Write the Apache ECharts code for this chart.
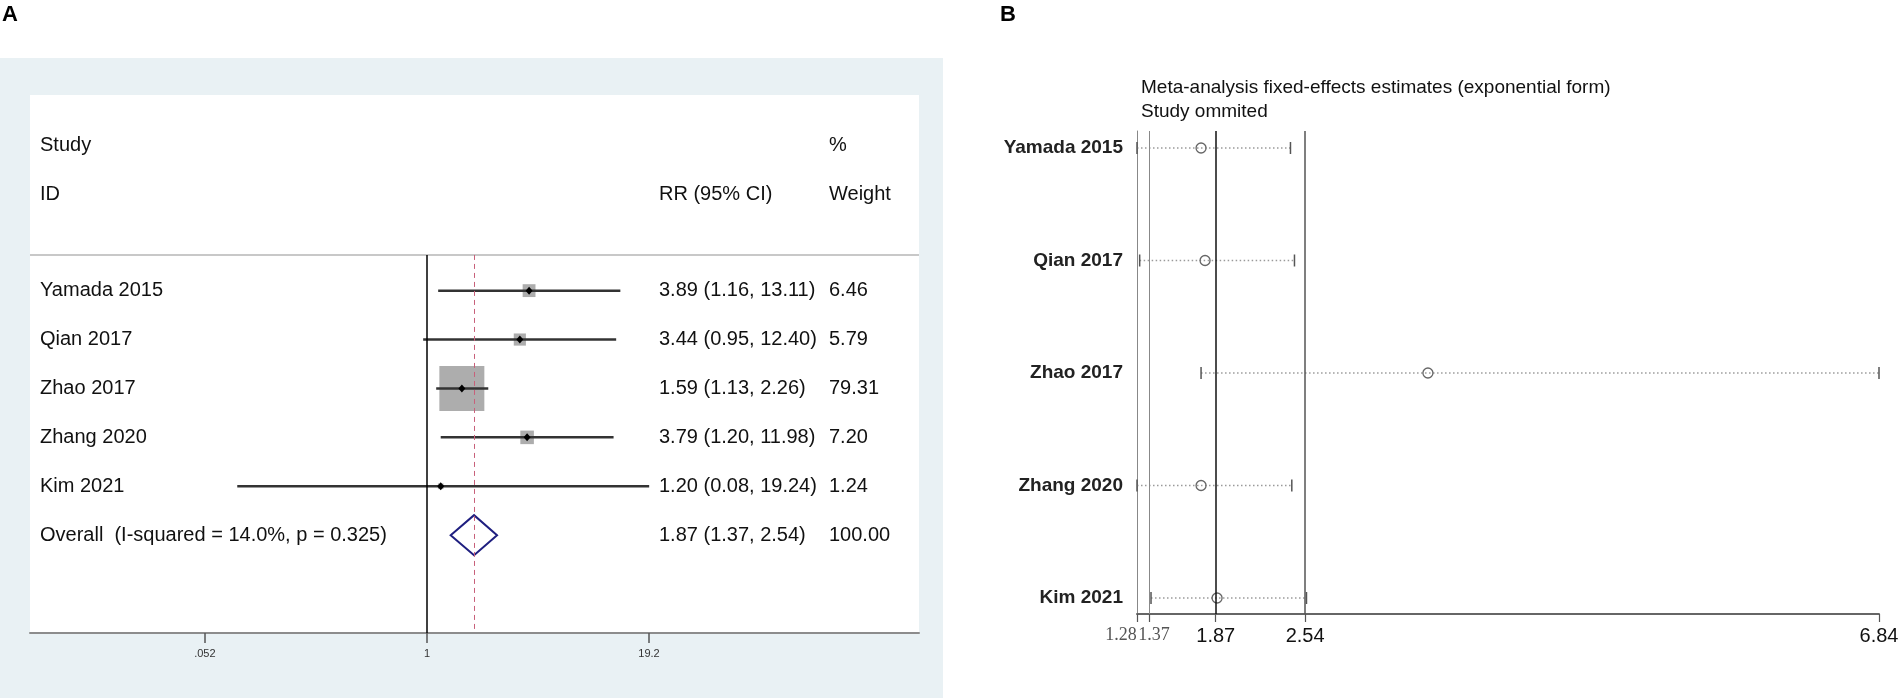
<!DOCTYPE html>
<html>
<head>
<meta charset="utf-8">
<script src="https://cdn.jsdelivr.net/npm/echarts@6/dist/echarts.min.js"></script>
<style>
html,body{margin:0;padding:0;background:#fff;}
#main{width:1902px;height:698px;}
</style>
</head>
<body>
<div id="main"></div>
<script>
// panel A : forest plot (RR, log scale)
var studiesA = ['Yamada 2015', 'Qian 2017', 'Zhao 2017', 'Zhang 2020', 'Kim 2021'];
var rrA = [3.89, 3.44, 1.59, 3.79, 1.20];
var loA = [1.16, 0.95, 1.13, 1.20, 0.08];
var hiA = [13.11, 12.40, 2.26, 11.98, 19.24];
var weightA = [6.46, 5.79, 79.31, 7.20, 1.24];
var overallLabel = 'Overall  (I-squared = 14.0%, p = 0.325)';
var overallA = [1.87, 1.37, 2.54];
var overallWeight = 100.00;
var tickValsA = [0.052, 1, 19.2];
var tickLabelsA = ['.052', '1', '19.2'];

// panel B : study omitted
var studiesB = ['Yamada 2015', 'Qian 2017', 'Zhao 2017', 'Zhang 2020', 'Kim 2021'];
var estB = [1.76, 1.79, 3.46, 1.76, 1.88];
var loB = [1.28, 1.30, 1.76, 1.28, 1.385];
var hiB = [2.43, 2.46, 6.84, 2.44, 2.55];
var tickValsB = [1.28, 1.37, 1.87, 2.54, 6.84];
var tickLabelsB = ['1.28', '1.37', '1.87', '2.54', '6.84'];

var FONT = '"Liberation Sans", Arial, sans-serif';
var lg = function (v) { return Math.log(v) / Math.LN10; };

// rows of panel A, last one is the pooled estimate
var rowsA = [];
for (var i = 0; i < studiesA.length; i++) {
    rowsA.push({name: studiesA[i], est: rrA[i], lo: loA[i], hi: hiA[i], w: weightA[i], overall: 0});
}
rowsA.push({name: overallLabel, est: overallA[0], lo: overallA[1], hi: overallA[2], w: overallWeight, overall: 1});

var dataA = rowsA.map(function (r, i) {
    return [lg(r.est), lg(r.lo), lg(r.hi), i + 1, r.w, r.overall];
});
var dataB = studiesB.map(function (s, i) {
    return [estB[i], loB[i], hiB[i], i];
});

function renderForest(params, api) {
    var r = rowsA[params.dataIndex];
    var yv = api.value(3);
    var pE = api.coord([api.value(0), yv]);
    var pL = api.coord([api.value(1), yv]);
    var pH = api.coord([api.value(2), yv]);
    var y = pE[1];
    var txt = function (x, s) {
        return {type: 'text', style: {x: x, y: y, text: s, fill: '#111', font: '20px ' + FONT, align: 'left', verticalAlign: 'middle'}};
    };
    var kids = [];
    if (r.overall) {
        kids.push({
            type: 'polygon',
            shape: {points: [[pL[0], y], [pE[0], y - 20], [pH[0], y], [pE[0], y + 20]]},
            style: {fill: 'none', stroke: '#1f1f80', lineWidth: 2}
        });
    } else {
        var sz = 45 * Math.sqrt(r.w / 79.31);
        kids.push({type: 'rect', shape: {x: pE[0] - sz / 2, y: y - sz / 2, width: sz, height: sz}, style: {fill: '#adadad'}});
        kids.push({type: 'line', shape: {x1: pL[0], y1: y, x2: pH[0], y2: y}, style: {stroke: '#333', lineWidth: 2.5}});
        kids.push({
            type: 'polygon',
            shape: {points: [[pE[0] - 3.5, y], [pE[0], y - 4], [pE[0] + 3.5, y], [pE[0], y + 4]]},
            style: {fill: '#000'}
        });
    }
    kids.push(txt(40, r.name));
    kids.push(txt(659, r.est.toFixed(2) + ' (' + r.lo.toFixed(2) + ', ' + r.hi.toFixed(2) + ')'));
    kids.push(txt(829, r.w.toFixed(2)));
    return {type: 'group', children: kids};
}

function renderInfl(params, api) {
    var yv = api.value(3);
    var pE = api.coord([api.value(0), yv]);
    var pL = api.coord([api.value(1), yv]);
    var pH = api.coord([api.value(2), yv]);
    var y = pE[1];
    return {
        type: 'group',
        children: [
            {type: 'line', shape: {x1: pL[0], y1: y, x2: pH[0], y2: y}, style: {stroke: '#9a9a9a', lineWidth: 1.5, lineDash: [1.5, 2.5]}},
            {type: 'line', shape: {x1: pL[0], y1: y - 6, x2: pL[0], y2: y + 6}, style: {stroke: '#555', lineWidth: 1.5}},
            {type: 'line', shape: {x1: pH[0], y1: y - 6, x2: pH[0], y2: y + 6}, style: {stroke: '#555', lineWidth: 1.5}},
            {type: 'circle', shape: {cx: pE[0], cy: y, r: 5}, style: {fill: 'none', stroke: '#666', lineWidth: 1.3}}
        ]
    };
}

var myChart = echarts.init(document.getElementById('main'));

var option = {
    animation: false,
    backgroundColor: '#fff',
    graphic: [
        {type: 'rect', z: -10, shape: {x: 0, y: 58, width: 943, height: 640}, style: {fill: '#e9f1f4'}},
        {type: 'rect', z: -9, shape: {x: 30, y: 95, width: 889, height: 538}, style: {fill: '#fff'}},
        {type: 'text', left: 2, top: 4, style: {text: 'A', font: 'bold 22px ' + FONT, fill: '#000'}},
        {type: 'text', left: 1000, top: 4, style: {text: 'B', font: 'bold 22px ' + FONT, fill: '#000'}},
        {type: 'text', x: 40, y: 145, style: {text: 'Study', font: '20px ' + FONT, fill: '#111', verticalAlign: 'middle'}},
        {type: 'text', x: 40, y: 194, style: {text: 'ID', font: '20px ' + FONT, fill: '#111', verticalAlign: 'middle'}},
        {type: 'text', x: 659, y: 194, style: {text: 'RR (95% CI)', font: '20px ' + FONT, fill: '#111', verticalAlign: 'middle'}},
        {type: 'text', x: 829, y: 145, style: {text: '%', font: '20px ' + FONT, fill: '#111', verticalAlign: 'middle'}},
        {type: 'text', x: 829, y: 194, style: {text: 'Weight', font: '20px ' + FONT, fill: '#111', verticalAlign: 'middle'}},
        {type: 'text', x: 1141, y: 88, style: {text: 'Meta-analysis fixed-effects estimates (exponential form)', font: '19px ' + FONT, fill: '#111', verticalAlign: 'middle'}},
        {type: 'text', x: 1141, y: 112, style: {text: 'Study ommited', font: '19px ' + FONT, fill: '#111', verticalAlign: 'middle'}}
    ],
    grid: [
        {left: 30, top: 95, width: 889, height: 538, containLabel: false},
        {left: 1137, top: 131, width: 742, height: 483, containLabel: false}
    ],
    xAxis: [
        {
            type: 'value', gridIndex: 0, position: 'bottom',
            min: -2.295, max: 2.844,
            splitLine: {show: false},
            axisLine: {onZero: false, lineStyle: {color: '#8c8c8c', width: 2}},
            axisTick: {customValues: tickValsA.map(lg), length: 10, lineStyle: {color: '#555', width: 1.5}},
            axisLabel: {
                customValues: tickValsA.map(lg),
                margin: 15, fontSize: 11, fontFamily: FONT, color: '#333',
                formatter: function (v) {
                    var best = 0;
                    for (var k = 1; k < tickValsA.length; k++) {
                        if (Math.abs(lg(tickValsA[k]) - v) < Math.abs(lg(tickValsA[best]) - v)) best = k;
                    }
                    return tickLabelsA[best];
                }
            }
        },
        {
            type: 'value', gridIndex: 1, position: 'bottom',
            min: 1.28, max: 6.84,
            splitLine: {show: false},
            axisLine: {onZero: false, lineStyle: {color: '#666', width: 2}},
            axisTick: {customValues: tickValsB, length: 8, lineStyle: {color: '#555', width: 1.2}},
            axisLabel: {
                customValues: tickValsB,
                showMinLabel: true, showMaxLabel: true, hideOverlap: false,
                margin: 12, fontSize: 20, fontFamily: FONT, color: '#111',
                formatter: function (v) {
                    var best = 0;
                    for (var k = 1; k < tickValsB.length; k++) {
                        if (Math.abs(tickValsB[k] - v) < Math.abs(tickValsB[best] - v)) best = k;
                    }
                    if (best === 0) return '{a|' + tickLabelsB[best] + '}';
                    if (best === 1) return '{b|' + tickLabelsB[best] + '}';
                    return tickLabelsB[best];
                },
                rich: {
                    a: {fontFamily: '"Liberation Serif", serif', fontSize: 18, color: '#555', padding: [0, 32, 0, 0]},
                    b: {fontFamily: '"Liberation Serif", serif', fontSize: 18, color: '#555', padding: [0, 0, 0, 10]}
                }
            }
        }
    ],
    yAxis: [
        {type: 'value', gridIndex: 0, min: -3, max: 8, inverse: true, show: false},
        {
            type: 'value', gridIndex: 1, min: -0.151, max: 4.142, inverse: true,
            splitLine: {show: false},
            axisLine: {show: true, onZero: false, lineStyle: {color: '#888', width: 1}},
            axisTick: {show: false},
            axisLabel: {
                customValues: [0, 1, 2, 3, 4],
                margin: 14, fontSize: 19, fontWeight: 'bold', fontFamily: FONT, color: '#222',
                formatter: function (v) { return studiesB[Math.round(v)]; }
            }
        }
    ],
    series: [
        {
            type: 'custom', name: 'forest', xAxisIndex: 0, yAxisIndex: 0,
            renderItem: renderForest, data: dataA, clip: false,
            markLine: {
                silent: true, symbol: 'none', animation: false,
                label: {show: false},
                data: [
                    [{coord: [-2.295, 0.27], lineStyle: {color: '#c8c8c8', width: 2, type: 'solid'}}, {coord: [2.844, 0.27]}],
                    [{coord: [0, 0.27], lineStyle: {color: '#000', width: 1.5, type: 'solid'}}, {coord: [0, 8]}],
                    [{coord: [lg(overallA[0]), 0.27], lineStyle: {color: '#c8607a', width: 1, type: [5, 4]}}, {coord: [lg(overallA[0]), 8]}]
                ]
            }
        },
        {
            type: 'custom', name: 'omitted', xAxisIndex: 1, yAxisIndex: 1,
            renderItem: renderInfl, data: dataB, clip: false,
            markLine: {
                silent: true, symbol: 'none', animation: false,
                label: {show: false},
                data: [
                    {xAxis: overallA[1], lineStyle: {color: '#888', width: 1, type: 'solid'}},
                    {xAxis: overallA[0], lineStyle: {color: '#111', width: 1.5, type: 'solid'}},
                    {xAxis: overallA[2], lineStyle: {color: '#555', width: 1.5, type: 'solid'}}
                ]
            }
        }
    ]
};
myChart.setOption(option);
</script>
</body>
</html>
